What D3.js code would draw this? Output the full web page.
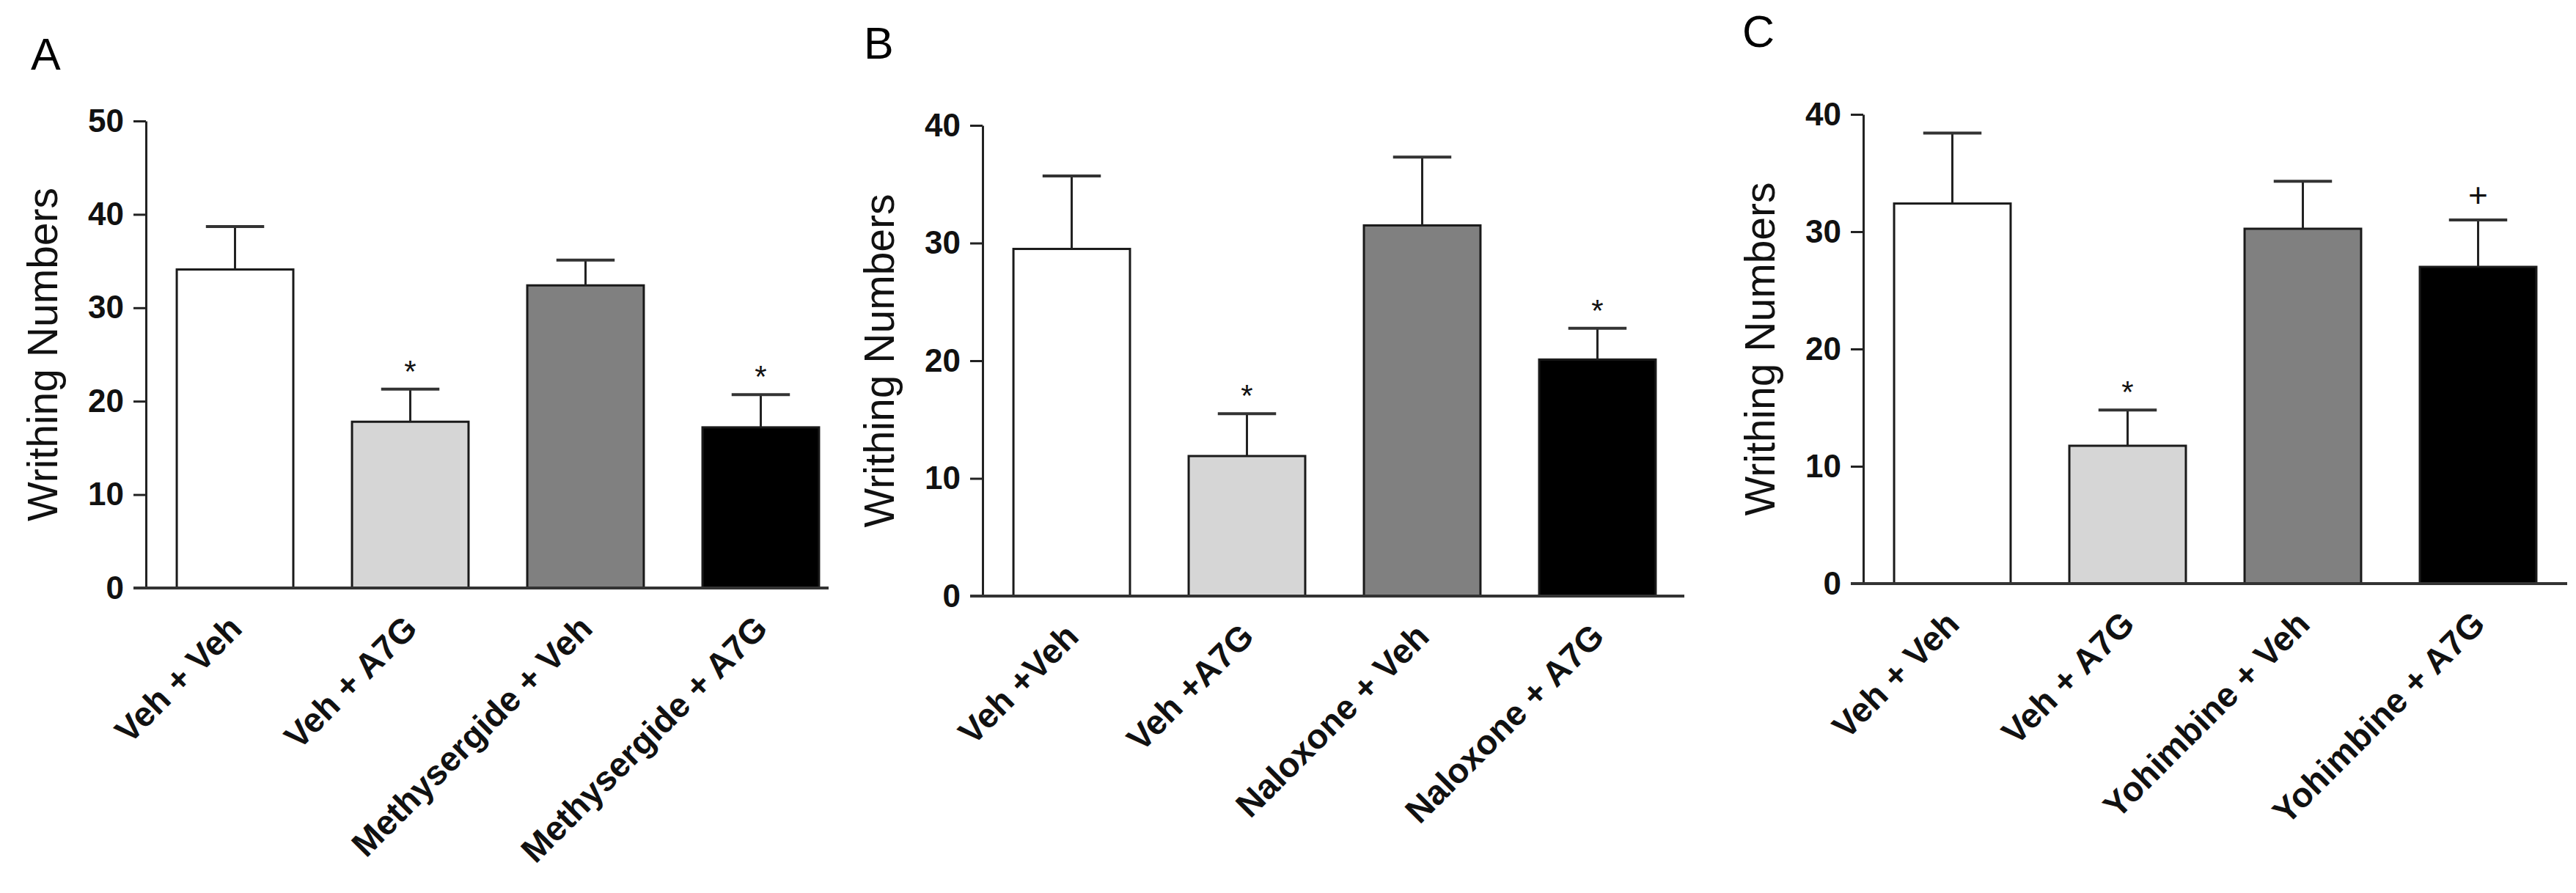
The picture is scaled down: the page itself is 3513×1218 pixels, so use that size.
<!DOCTYPE html>
<html>
<head>
<meta charset="utf-8">
<script src="https://cdn.jsdelivr.net/npm/d3@7"></script>
<style>
  html, body { margin: 0; padding: 0; background: #fff; }
  svg { display: block; font-family: "Liberation Sans", Arial, sans-serif; }
</style>
</head>
<body>
<svg id="chart"></svg>
<script>
// ---- data ----
const panelLetters = ["A", "B", "C"];

const groupsA = ["Veh + Veh", "Veh + A7G", "Methysergide + Veh", "Methysergide + A7G"];
const meansA  = [34.1, 17.8, 32.4, 17.2];
const semA    = [4.6, 3.5, 2.7, 3.5];
const marksA  = ["", "*", "", "*"];
const ticksA  = [0, 10, 20, 30, 40, 50];

const groupsB = ["Veh +Veh", "Veh +A7G", "Naloxone + Veh", "Naloxone + A7G"];
const meansB  = [29.5, 11.9, 31.5, 20.1];
const semB    = [6.2, 3.6, 5.8, 2.65];
const marksB  = ["", "*", "", "*"];
const ticksB  = [0, 10, 20, 30, 40];

const groupsC = ["Veh + Veh", "Veh + A7G", "Yohimbine + Veh", "Yohimbine + A7G"];
const meansC  = [32.4, 11.75, 30.25, 27.0];
const semC    = [6.0, 3.05, 4.05, 4.0];
const marksC  = ["", "*", "", "+"];
const ticksC  = [0, 10, 20, 30, 40];

const yTitle = "Writhing Numbers";
const fills = ["#ffffff", "#d6d6d6", "#808080", "#000000"];

// ---- layout (pixels) ----
const W = 3513, H = 1218;
const layout = [
  { axisX: 199,  y0: 802, yTop: 165, axisLen: 931, letterX: 42,   letterY: 95 },
  { axisX: 1340, y0: 813, yTop: 171, axisLen: 957, letterX: 1178, letterY: 80 },
  { axisX: 2541, y0: 796, yTop: 156, axisLen: 960, letterX: 2376, letterY: 64 }
];

const panels = [
  { groups: groupsA, means: meansA, sem: semA, marks: marksA, ticks: ticksA },
  { groups: groupsB, means: meansB, sem: semB, marks: marksB, ticks: ticksB },
  { groups: groupsC, means: meansC, sem: semC, marks: marksC, ticks: ticksC }
];

const svg = d3.select("#chart")
  .attr("width", W)
  .attr("height", H);

svg.append("rect").attr("width", W).attr("height", H).attr("fill", "#fff");

panels.forEach((p, i) => {
  const L = layout[i];
  const rows = p.groups.map((g, j) => ({ group: g, mean: p.means[j], sem: p.sem[j], mark: p.marks[j], fill: fills[j] }));

  const x = d3.scaleBand()
    .domain(p.groups)
    .range([L.axisX, L.axisX + 960])
    .paddingInner(0.335)
    .paddingOuter(0.176);

  const y = d3.scaleLinear()
    .domain([0, d3.max(p.ticks)])
    .range([L.y0, L.yTop]);

  const g = svg.append("g");

  // panel letter
  g.append("text")
    .attr("x", L.letterX)
    .attr("y", L.letterY)
    .attr("font-size", 61)
    .attr("fill", "#000")
    .text(panelLetters[i]);

  // bars
  g.selectAll("rect.bar")
    .data(rows)
    .enter()
    .append("rect")
      .attr("class", "bar")
      .attr("x", d => x(d.group))
      .attr("y", d => y(d.mean))
      .attr("width", x.bandwidth())
      .attr("height", d => y(0) - y(d.mean))
      .attr("fill", d => d.fill)
      .attr("stroke", "#1a1a1a")
      .attr("stroke-width", 3);

  // error bars (upper only)
  const cx = d => x(d.group) + x.bandwidth() / 2;
  g.selectAll("line.err")
    .data(rows)
    .enter()
    .append("line")
      .attr("class", "err")
      .attr("x1", cx).attr("x2", cx)
      .attr("y1", d => y(d.mean))
      .attr("y2", d => y(d.mean + d.sem))
      .attr("stroke", "#222")
      .attr("stroke-width", 3);

  g.selectAll("line.cap")
    .data(rows)
    .enter()
    .append("line")
      .attr("class", "cap")
      .attr("x1", d => cx(d) - x.bandwidth() / 4)
      .attr("x2", d => cx(d) + x.bandwidth() / 4)
      .attr("y1", d => y(d.mean + d.sem))
      .attr("y2", d => y(d.mean + d.sem))
      .attr("stroke", "#333")
      .attr("stroke-width", 4);

  // significance marks
  g.selectAll("text.mark")
    .data(rows.filter(d => d.mark))
    .enter()
    .append("text")
      .attr("class", "mark")
      .attr("x", cx)
      .attr("y", d => y(d.mean + d.sem) - 34 + (d.mark === "*" ? 24 : 16))
      .attr("text-anchor", "middle")
      .attr("font-size", d => d.mark === "*" ? 42 : 46)
      .attr("fill", "#111")
      .text(d => d.mark);

  // y axis
  const yAxis = g.append("g")
    .attr("transform", `translate(${L.axisX},0)`)
    .call(d3.axisLeft(y).tickValues(p.ticks).tickSize(17).tickSizeOuter(0).tickPadding(13));
  yAxis.select(".domain").attr("stroke", "#222").attr("stroke-width", 3);
  yAxis.selectAll(".tick line").attr("stroke", "#222").attr("stroke-width", 3);
  yAxis.selectAll(".tick text")
    .attr("font-family", "\"Liberation Sans\", Arial, sans-serif")
    .attr("font-size", 44)
    .attr("font-weight", "bold")
    .attr("fill", "#111");

  // x axis: labels from the band scale, baseline drawn separately
  const xAxis = g.append("g")
    .attr("transform", `translate(0,${L.y0})`)
    .call(d3.axisBottom(x).tickSize(0));
  xAxis.select(".domain").remove();
  xAxis.selectAll(".tick text")
    .attr("x", 0)
    .attr("y", 0)
    .attr("dy", 0)
    .attr("transform", "translate(12,58) rotate(-45)")
    .attr("text-anchor", "end")
    .attr("font-family", "\"Liberation Sans\", Arial, sans-serif")
    .attr("font-size", 47)
    .attr("font-weight", "bold")
    .attr("fill", "#111");

  g.append("line")
    .attr("x1", L.axisX - 17)
    .attr("x2", L.axisX + L.axisLen)
    .attr("y1", L.y0)
    .attr("y2", L.y0)
    .attr("stroke", "#333")
    .attr("stroke-width", 4);

  // y title
  g.append("text")
    .attr("transform", `translate(${L.axisX - 121},${(L.y0 + L.yTop) / 2}) rotate(-90)`)
    .attr("text-anchor", "middle")
    .attr("font-size", 57)
    .attr("fill", "#111")
    .text(yTitle);
});
</script>
</body>
</html>
